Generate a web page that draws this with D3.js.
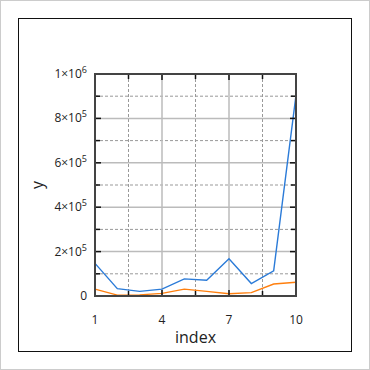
<!DOCTYPE html>
<html lang="en">
<head>
<meta charset="utf-8">
<style>
  body { margin: 0; background: white; }
  text { font-family: "Open Sans", "Noto Sans", sans-serif; fill: #222; }
  .grid-major { stroke: #bbb; stroke-width: 1.5px; }
  .grid-minor { stroke: #999; stroke-width: 1px; stroke-dasharray: 3,2; }
  .series { fill: none; stroke-width: 1.4px; }
</style>
<script src="https://cdn.jsdelivr.net/npm/d3@7"></script>
</head>
<body>
<div id="chart"></div>
<script>
var index = [1, 2, 3, 4, 5, 6, 7, 8, 9, 10];
var blueY = [147000, 33000, 21000, 31000, 77000, 71000, 168000, 56000, 113000, 905000];
var orangeY = [31000, 4000, 5000, 12000, 31000, 21000, 10000, 15000, 54000, 62000];
var xMajor = [1, 4, 7, 10];
var xMinor = [2.5, 5.5, 8.5];
var yMajor = [0, 200000, 400000, 600000, 800000, 1000000];
var yMinor = [100000, 300000, 500000, 700000, 900000];

var W = 370, H = 370;
var pLeft = 95, pRight = 296, pTop = 74, pBottom = 296;

var svg = d3.select("#chart").append("svg")
    .attr("width", W).attr("height", H);

svg.append("rect").attr("x", 0.5).attr("y", 0.5)
    .attr("width", W - 1).attr("height", H - 1)
    .attr("fill", "white").attr("stroke", "#ccc");
svg.append("rect").attr("x", 18.5).attr("y", 18.5)
    .attr("width", 333).attr("height", 333)
    .attr("fill", "white").attr("stroke", "#111");

var x = d3.scaleLinear().domain([1, 10]).range([pLeft, pRight]);
var y = d3.scaleLinear().domain([0, 1000000]).range([pBottom, pTop]);

var g = svg.append("g");

// grid
g.selectAll(".gxm").data(xMinor).enter().append("line")
    .attr("class", "grid-minor")
    .attr("x1", d => x(d)).attr("x2", d => x(d)).attr("y1", pTop).attr("y2", pBottom);
g.selectAll(".gym").data(yMinor).enter().append("line")
    .attr("class", "grid-minor")
    .attr("y1", d => y(d)).attr("y2", d => y(d)).attr("x1", pLeft).attr("x2", pRight);
g.selectAll(".gxM").data(xMajor.slice(1, -1)).enter().append("line")
    .attr("class", "grid-major")
    .attr("x1", d => x(d)).attr("x2", d => x(d)).attr("y1", pTop).attr("y2", pBottom);
g.selectAll(".gyM").data(yMajor.slice(1, -1)).enter().append("line")
    .attr("class", "grid-major")
    .attr("y1", d => y(d)).attr("y2", d => y(d)).attr("x1", pLeft).attr("x2", pRight);

// series
var line = d3.line().x((d, i) => x(index[i])).y(d => y(d));
g.append("path").datum(blueY).attr("class", "series")
    .attr("stroke", "#2b7bd8").attr("d", line);
g.append("path").datum(orangeY).attr("class", "series")
    .attr("stroke", "#ff7f0e").attr("d", line);

// ticks (inward)
function xticks(vals, len, w) {
  vals.forEach(function(v) {
    g.append("line").attr("x1", x(v)).attr("x2", x(v)).attr("y1", pBottom).attr("y2", pBottom - len)
      .attr("stroke", "#111").attr("stroke-width", w);
    g.append("line").attr("x1", x(v)).attr("x2", x(v)).attr("y1", pTop).attr("y2", pTop + len)
      .attr("stroke", "#111").attr("stroke-width", w);
  });
}
xticks(xMajor, 6, 1.5);
xticks(xMinor, 5, 1.5);
function yticks(vals, len, w) {
  vals.forEach(function(v) {
    g.append("line").attr("y1", y(v)).attr("y2", y(v)).attr("x1", pLeft).attr("x2", pLeft + len)
      .attr("stroke", "#111").attr("stroke-width", w);
    g.append("line").attr("y1", y(v)).attr("y2", y(v)).attr("x1", pRight).attr("x2", pRight - len)
      .attr("stroke", "#111").attr("stroke-width", w);
  });
}
yticks(yMajor, 6, 1.5);
yticks(yMinor, 5, 1.5);

// frame
g.append("rect").attr("x", pLeft).attr("y", pTop)
    .attr("width", pRight - pLeft).attr("height", pBottom - pTop)
    .attr("fill", "none").attr("stroke", "#444").attr("stroke-width", 2);

// x tick labels
g.selectAll(".xl").data(xMajor).enter().append("text")
    .attr("x", d => x(d)).attr("y", pBottom + 28)
    .attr("text-anchor", "middle").attr("font-size", 12)
    .text(d => d);

// y tick labels
yMajor.forEach(function(v) {
  var t = g.append("text").attr("x", pLeft - 8).attr("y", y(v) + 4)
      .attr("text-anchor", "end").attr("font-size", 12);
  if (v === 0) { t.text("0"); return; }
  var e = Math.floor(Math.log10(v) + 1e-9);
  var m = Math.round(v / Math.pow(10, e));
  t.append("tspan").text(m + "\u00d710");
  t.append("tspan").attr("dy", -5).attr("font-size", 9).text(e);
});

// axis labels
svg.append("text").attr("x", (pLeft + pRight) / 2).attr("y", 343)
    .attr("text-anchor", "middle").attr("font-size", 16).text("index");
svg.append("text").attr("transform", "translate(43," + ((pTop + pBottom) / 2) + ") rotate(-90)")
    .attr("text-anchor", "middle").attr("font-size", 16).text("y");
</script>
</body>
</html>
